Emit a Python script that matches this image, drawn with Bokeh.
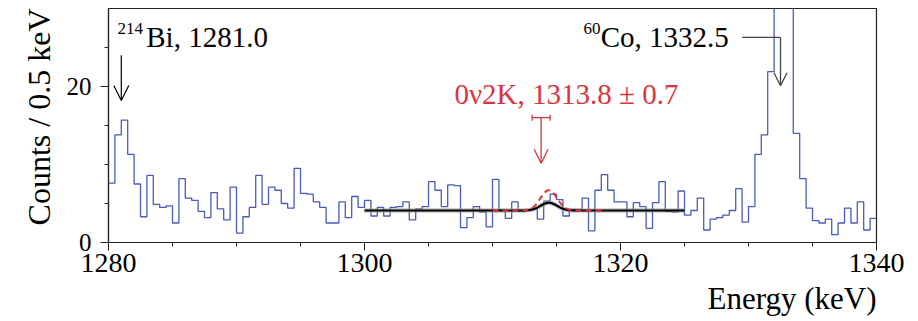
import numpy as np
from bokeh.plotting import figure
from bokeh.models import Range1d, FixedTicker, Label, Arrow, OpenHead, Title
from bokeh.embed import file_html
from bokeh.resources import INLINE

# ---------------- data ----------------
bin_start = 1280.0
bin_width = 0.5
counts = [
    7.6, 13.8, 15.7, 11.3, 7.5, 3.3, 8.6, 4.9, 4.5, 4.7,
    2.5, 8.2, 5.7, 5.4, 4.0, 3.2, 6.4, 4.3, 2.9, 7.1,
    1.2, 3.3, 4.5, 8.6, 4.9, 7.1, 6.7, 5.0, 4.4, 9.5,
    6.3, 6.2, 5.2, 4.5, 2.5, 2.5, 5.2, 3.2, 5.9, 4.5,
    5.4, 3.4, 4.5, 3.4, 4.5, 4.6, 5.2, 2.9, 4.3, 4.6,
    7.8, 6.7, 4.6, 7.4, 7.3, 1.9, 3.2, 4.6, 3.9, 2.0,
    8.1, 4.2, 3.1, 5.2, 4.0, 4.2, 4.3, 3.0, 5.3, 6.2,
    5.5, 3.4, 4.25, 4.25, 5.7, 1.5, 6.7, 8.7, 6.7, 5.2,
    5.2, 3.3, 5.1, 4.6, 1.8, 5.1, 7.8, 4.0, 3.9, 6.6,
    3.5, 4.1, 5.7, 1.6, 3.0, 3.2, 3.5, 4.1, 6.9, 2.6,
    4.6, 11.3, 13.8, 21.9, 45.0, 60.0, 40.0, 14.0, 8.2, 4.4,
    2.8, 2.5, 3.0, 1.0, 2.5, 4.4, 2.5, 5.2, 1.6, 3.1,
]

x_major = [1280, 1300, 1320, 1340]
x_minor = [1285, 1290, 1295, 1305, 1310, 1315, 1325, 1330, 1335]
y_major = [0, 20]
y_minor = [5, 10, 15, 25]

# fit model parameters (flat background + Gaussian)
fit_lo, fit_hi = 1300.0, 1325.0
bkg_level = 4.1
peak_mu = 1314.4
peak_sigma = 0.65
amp_best = 1.0
amp_limit = 2.6
limit_lo, limit_hi = 1310.0, 1318.5

# annotations
bi_energy = 1281.0
co_energy = 1332.5
signal_energy = 1313.8
signal_err = 0.7

# ---------------- figure ----------------
p = figure(width=918, height=321, x_range=Range1d(1280, 1340), y_range=Range1d(0, 30),
           output_backend="svg", toolbar_location=None,
           min_border_left=108, min_border_right=42, min_border_top=8, min_border_bottom=79)
p.background_fill_color = "white"
p.border_fill_color = "white"
p.outline_line_color = "#222222"
p.outline_line_width = 1.2
p.xgrid.visible = False
p.ygrid.visible = False

FONT = "Liberation Serif"
for ax in (p.xaxis[0], p.yaxis[0]):
    ax.axis_line_color = "#222222"
    ax.axis_line_width = 1.2
    ax.major_tick_line_color = "#222222"
    ax.minor_tick_line_color = "#222222"
    ax.major_tick_in = 0
    ax.major_tick_out = 8
    ax.minor_tick_in = 0
    ax.minor_tick_out = 4
    ax.major_label_text_font = FONT
    ax.major_label_text_color = "black"

p.xaxis.major_label_text_font_size = "28px"
p.yaxis.major_label_text_font_size = "25px"
p.xaxis.ticker = FixedTicker(ticks=x_major, minor_ticks=x_minor)
p.yaxis.ticker = FixedTicker(ticks=y_major, minor_ticks=y_minor)
p.xaxis.major_label_standoff = 3
p.yaxis.major_label_standoff = 9

# axis titles (right / top aligned)
p.add_layout(Title(text="Energy (keV)", align="right", text_font=FONT, text_font_size="31px",
                   text_font_style="normal", text_color="black", standoff=8), "below")
p.add_layout(Title(text="Counts / 0.5 keV", align="right", text_font=FONT, text_font_size="32px",
                   text_font_style="normal", text_color="black", standoff=14), "left")

# histogram
edges = bin_start + bin_width * np.arange(len(counts) + 1)
step_y = list(counts) + [counts[-1]]
p.step(x=edges, y=step_y, mode="after", line_color="#4a5ab8", line_width=1.3)

# fit curves
xf = np.linspace(fit_lo, fit_hi, 600)
yf = bkg_level + amp_best * np.exp(-0.5 * ((xf - peak_mu) / peak_sigma) ** 2)
p.line(xf, yf, line_color="#9a9a9a", line_width=4.5, line_alpha=0.6)
p.line(xf, yf, line_color="black", line_width=2.2)

xl = np.linspace(limit_lo, limit_hi, 300)
yl = bkg_level + amp_limit * np.exp(-0.5 * ((xl - peak_mu) / peak_sigma) ** 2)
p.line(xl, yl, line_color="#e0303a", line_width=2.0, line_dash="6 4")

# ---------------- annotations ----------------
ppu = 234.0 / 30.0      # pixels per count

# Bi
p.add_layout(Label(x=1280.7, y=27.5, text="214", text_font=FONT, text_baseline="alphabetic",
                   text_font_size="17px", text_color="black"))
p.add_layout(Label(x=1282.95, y=26.3, text="Bi, 1281.0", text_font=FONT, text_baseline="alphabetic",
                   text_font_size="29px", text_color="black"))
p.add_layout(Arrow(end=OpenHead(size=15, line_color="black", line_width=1.2),
                   x_start=bi_energy, y_start=24.0, x_end=bi_energy, y_end=18.2,
                   line_color="black", line_width=1.2))

# Co
p.add_layout(Label(x=1317.1, y=27.5, text="60", text_font=FONT, text_baseline="alphabetic",
                   text_font_size="17px", text_color="black"))
p.add_layout(Label(x=1318.45, y=26.3, text="Co, 1332.5", text_font=FONT, text_baseline="alphabetic",
                   text_font_size="29px", text_color="black"))
p.line([1329.5, co_energy], [26.3, 26.3], line_color="#444444", line_width=1.3)
p.add_layout(Arrow(end=OpenHead(size=13, line_color="#444444", line_width=1.3),
                   x_start=co_energy, y_start=26.3, x_end=co_energy, y_end=20.1,
                   line_color="#444444", line_width=1.3))

# 0v2K signal
RED = "#dc343e"
p.add_layout(Label(x=1315.78, y=19.1, text="0\u03bd2K, 1313.8 \u00b1 0.7", text_font=FONT,
                   text_baseline="alphabetic", text_font_size="29px", text_color=RED,
                   text_align="center"))
p.segment(x0=[signal_energy - signal_err], y0=[16.0], x1=[signal_energy + signal_err], y1=[16.0],
          line_color=RED, line_width=1.3)
cap = 3.0 / ppu
p.segment(x0=[signal_energy - signal_err, signal_energy + signal_err], y0=[16.0 - cap, 16.0 - cap],
          x1=[signal_energy - signal_err, signal_energy + signal_err], y1=[16.0 + cap, 16.0 + cap],
          line_color=RED, line_width=1.3)
p.add_layout(Arrow(end=OpenHead(size=14, line_color=RED, line_width=1.3),
                   x_start=signal_energy, y_start=16.0, x_end=signal_energy, y_end=10.15,
                   line_color=RED, line_width=1.3))

open("out.html", "w").write(file_html(p, INLINE))
